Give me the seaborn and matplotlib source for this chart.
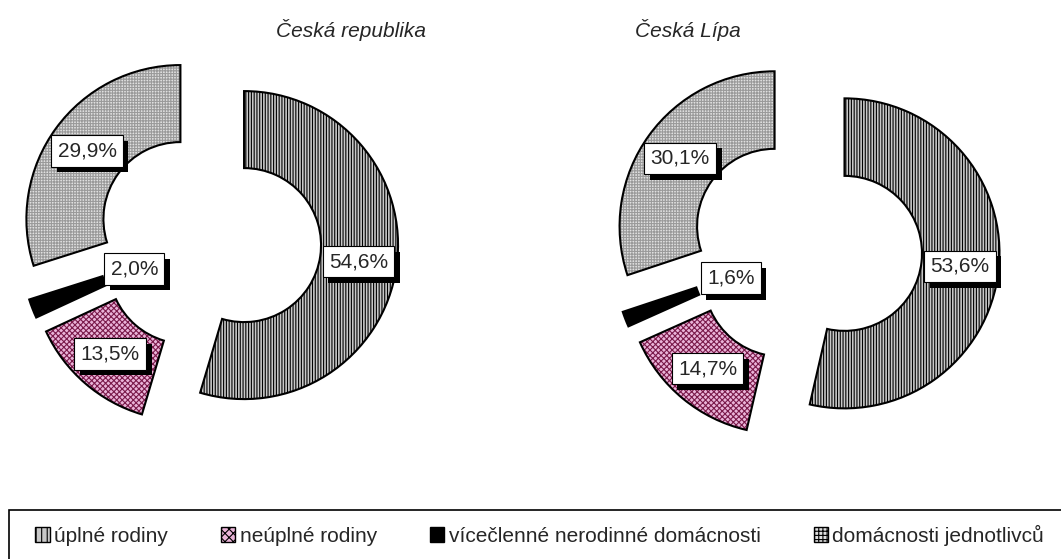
"""
Household structure: Česká republika vs. Česká Lípa, exploded donuts.
"""

import matplotlib
matplotlib.use("Agg")
import matplotlib.pyplot as plt
import matplotlib.patheffects as pe
from matplotlib.patches import Patch, Rectangle
import numpy as np
import seaborn as sns


# data
categories = ["úplné rodiny", "neúplné rodiny",
              "vícečlenné nerodinné domácnosti", "domácnosti jednotlivců"]
cz_values = [54.6, 13.5, 2.0, 29.9]
cl_values = [53.6, 14.7, 1.6, 30.1]
titles = ["Česká republika", "Česká Lípa"]

# styles
face_colors = ["#c8c8c8", "#eab4d8", "#000000", "#e0e0e0"]
hatch_colors = ["#000000", "#7a1a4a", "#000000", "#9a9a9a"]
hatches = ["||||||", "xxxxxx", "", "++++++"]
label_radius = [None, None, 0.52, None]

sns.set_theme(style="white")
plt.rcParams["font.family"] = ["Liberation Sans", "DejaVu Sans"]
plt.rcParams["hatch.linewidth"] = 0.8

W, H = 1061, 559
FS = 15


def donut(fig, center, radius, explode, values):
    """
    Draw one exploded donut with its centre at pixel coords.
    """
    lim = 1.7
    size = 2 * lim * radius
    ax = fig.add_axes([(center[0] - size / 2) / W,
                       (H - center[1] - size / 2) / H,
                       size / W, size / H])
    ex = [explode] * len(values)
    common = dict(startangle=90, counterclock=False, explode=ex, radius=1)

    # fill
    ax.pie(values, colors=face_colors,
           wedgeprops=dict(width=0.5, linewidth=0), **common)
    # hatch layer
    wedges, _ = ax.pie(values, colors=["none"] * 4,
                       wedgeprops=dict(width=0.5, linewidth=0), **common)
    for w, h, hc in zip(wedges, hatches, hatch_colors):
        w.set_hatch(h)
        w.set_edgecolor(hc)
        w.set_facecolor("none")
    # outline
    wedges, _ = ax.pie(values, colors=["none"] * 4,
                       wedgeprops=dict(width=0.5, linewidth=1.5,
                                       edgecolor="black"), **common)
    for w in wedges:
        w.set_facecolor("none")

    ax.set_xlim(-lim, lim)
    ax.set_ylim(-lim, lim)
    ax.set_aspect("equal")
    ax.axis("off")

    # labels: white box with a black drop shadow
    cum = np.cumsum([0] + list(values[:-1]))
    for v, c, lr in zip(values, cum, label_radius):
        ang = np.deg2rad(90 - (c + v / 2) * 3.6)
        r = 0.75 + explode if lr is None else lr
        x, y = r * np.cos(ang), r * np.sin(ang)
        txt = f"{v:.1f}%".replace(".", ",")
        t = ax.text(x, y, txt, ha="center", va="center", fontsize=FS,
                    bbox=dict(boxstyle="square,pad=0.3", fc="white",
                              ec="black", lw=0.8))
        t.get_bbox_patch().set_path_effects([
            pe.SimplePatchShadow(offset=(4, -4), shadow_rgbFace="black",
                                 alpha=1.0),
            pe.Normal()])
    return ax


fig = plt.figure(figsize=(W / 100, H / 100), dpi=100)

donut(fig, (209, 240), 154, 0.23, cz_values)
donut(fig, (806, 249), 155, 0.25, cl_values)

fig.text(351 / W, 1 - 30 / H, titles[0], fontsize=FS, style="italic",
         ha="center", va="center")
fig.text(688 / W, 1 - 30 / H, titles[1], fontsize=FS, style="italic",
         ha="center", va="center")

# legend
leg_hatch = ["|||", "xxxx", "", "++++"]
handles = [Patch(facecolor=fc, edgecolor="black", hatch=h, lw=1)
           for fc, h in zip(face_colors, leg_hatch)]
fig.legend(handles, categories, loc="center left", ncol=4,
           bbox_to_anchor=(35 / W, 1 - 535 / H), frameon=False,
           fontsize=FS, handlelength=0.7, handleheight=0.7,
           handletextpad=0.2, columnspacing=2.55, borderpad=0,
           borderaxespad=0)
fig.add_artist(Rectangle((9 / W, -0.05), 1.1, (H - 510) / H + 0.05,
                         transform=fig.transFigure, fill=False,
                         edgecolor="black", lw=1.2, clip_on=False))

fig.savefig("out.png", dpi=100, facecolor="white")
